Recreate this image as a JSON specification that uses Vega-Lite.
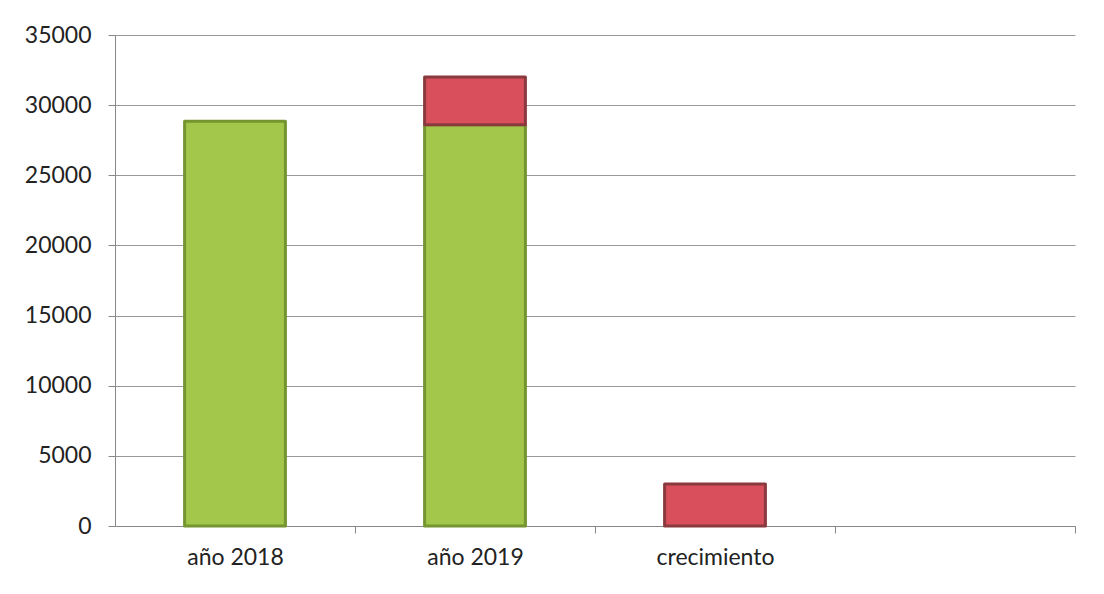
{
  "$schema": "https://vega.github.io/schema/vega-lite/v6.json",
  "width": 960,
  "height": 491,
  "autosize": {"type": "none"},
  "padding": {"left": 115, "top": 35, "right": 29, "bottom": 68},
  "background": "white",
  "config": {
    "view": {"stroke": null},
    "font": "Lato",
    "axis": {"labelFont": "Lato", "labelColor": "#222222"},
    "bar": {"strokeWidth": 3}
  },
  "data": {
    "values": [
      {"categoria": "año 2018", "serie": "base", "valor": 28850},
      {"categoria": "año 2019", "serie": "base", "valor": 28600},
      {"categoria": "año 2019", "serie": "crecimiento", "valor": 3400},
      {"categoria": "crecimiento", "serie": "crecimiento", "valor": 3000}
    ]
  },
  "mark": {"type": "bar", "strokeWidth": 3, "strokeOpacity": 1, "strokeJoin": "round"},
  "encoding": {
    "x": {
      "field": "categoria",
      "type": "nominal",
      "sort": null,
      "scale": {"domain": ["año 2018", "año 2019", "crecimiento", " "], "paddingInner": 0.58, "paddingOuter": 0.29},
      "axis": {
        "title": null,
        "labelAngle": 0,
        "labelFontSize": 23,
        "labelPadding": 13,
        "tickOffset": 120,
        "labelOffset": -120,
        "tickSize": 7,
        "tickColor": "#888888",
        "domainColor": "#888888",
        "grid": false
      }
    },
    "y": {
      "field": "valor",
      "type": "quantitative",
      "aggregate": "sum",
      "stack": "zero",
      "scale": {"domain": [0, 35000], "nice": false},
      "axis": {
        "title": null,
        "values": [0, 5000, 10000, 15000, 20000, 25000, 30000, 35000],
        "format": "d",
        "labelFontSize": 23,
        "labelPadding": 17,
        "tickSize": 7,
        "tickColor": "#888888",
        "domainColor": "#888888",
        "gridColor": "#999999",
        "gridWidth": 1.2
      }
    },
    "color": {
      "field": "serie",
      "type": "nominal",
      "scale": {"domain": ["base", "crecimiento"], "range": ["#a3c74a", "#d9505c"]},
      "legend": null
    },
    "stroke": {
      "field": "serie",
      "type": "nominal",
      "scale": {"domain": ["base", "crecimiento"], "range": ["#74952f", "#8a3a3e"]},
      "legend": null
    },
    "order": {"field": "serie", "sort": "ascending"}
  }
}
